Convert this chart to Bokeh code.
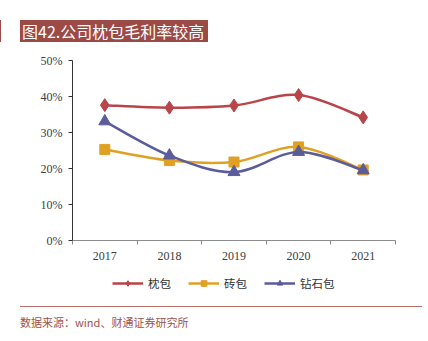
from bokeh.plotting import figure
from bokeh.models import (Range1d, FixedTicker, PrintfTickFormatter, Legend, LegendItem,
                          ColumnDataSource, Div)
from bokeh.layouts import column
from bokeh.embed import file_html
from bokeh.resources import INLINE

title_text = "图42.公司枕包毛利率较高"
source_text = "数据来源：wind、财通证券研究所"
years = ["2017", "2018", "2019", "2020", "2021"]
zhenbao = [37.6, 36.9, 37.5, 40.4, 34.2]
zhuanbao = [25.3, 22.2, 21.8, 26.0, 19.6]
zuanshibao = [33.1, 23.6, 19.0, 24.6, 19.5]
y_ticks = [0, 10, 20, 30, 40, 50]

series = [
    ("枕包", zhenbao, "#B9454A", "diamond", 13),
    ("砖包", zhuanbao, "#E0A024", "square", 10),
    ("钻石包", zuanshibao, "#5B5C9C", "triangle", 12),
]

W = 428
TOP_H, FIG_H, LEG_H, FOOT_H = 48, 222, 30, 41

title_div = Div(width=W, height=TOP_H, margin=0, text=(
    '<div style="height:20px"></div>'
    '<div style="display:flex">'
    '<div style="width:1px;height:22px;background:#9C4A45"></div>'
    '<div style="margin-left:19px;width:188px;height:22px;background:#9C4A45;color:white;'
    'font-family:\'Noto Sans CJK SC\';font-size:16px;line-height:22px;padding-left:2px;'
    'box-sizing:border-box;white-space:nowrap;overflow:hidden">' + title_text + '</div></div>'))

foot_div = Div(width=W, height=FOOT_H, margin=0, text=(
    '<div style="height:6px"></div>'
    '<div style="margin-left:20px;width:402px;height:0;border-top:1px solid #B8706A"></div>'
    '<div style="margin-left:20px;margin-top:7px;color:#A0524E;font-family:\'Noto Sans CJK SC\';'
    'font-size:11px;line-height:16px;white-space:nowrap">' + source_text + '</div>'))

p = figure(width=W, height=FIG_H, output_backend="svg", toolbar_location=None,
           x_range=Range1d(0, len(years)), y_range=Range1d(0, 50),
           min_border_left=72, min_border_right=33, min_border_top=12, min_border_bottom=30)
p.outline_line_color = None
p.grid.grid_line_color = None

xs = [i + 0.5 for i in range(len(years))]

xa = p.xaxis[0]
xa.ticker = FixedTicker(ticks=xs, minor_ticks=list(range(len(years) + 1)))
xa.major_label_overrides = {x: y for x, y in zip(xs, years)}
xa.major_tick_line_color = None
xa.minor_tick_in = 0
xa.minor_tick_out = 4
xa.minor_tick_line_color = "#8C8C8C"
xa.axis_line_color = "#8C8C8C"
xa.major_label_text_font = "Liberation Serif"
xa.major_label_text_font_size = "12px"
xa.major_label_text_color = "#404040"
xa.major_label_standoff = 5

ya = p.yaxis[0]
ya.ticker = FixedTicker(ticks=y_ticks)
ya.formatter = PrintfTickFormatter(format="%d%%")
ya.minor_tick_line_color = None
ya.major_tick_in = 0
ya.major_tick_out = 4
ya.major_tick_line_color = "#333333"
ya.axis_line_color = "#333333"
ya.major_label_text_font = "Liberation Serif"
ya.major_label_text_font_size = "12px"
ya.major_label_text_color = "#404040"
ya.major_label_standoff = 6


def smooth(xv, yv):
    n = len(xv)
    out = dict(x0=[], y0=[], x1=[], y1=[], cx0=[], cy0=[], cx1=[], cy1=[])
    for i in range(n - 1):
        a = max(i - 1, 0)
        d = min(i + 2, n - 1)
        out["x0"].append(xv[i]); out["y0"].append(yv[i])
        out["x1"].append(xv[i + 1]); out["y1"].append(yv[i + 1])
        out["cx0"].append(xv[i] + (xv[i + 1] - xv[a]) / 6)
        out["cy0"].append(yv[i] + (yv[i + 1] - yv[a]) / 6)
        out["cx1"].append(xv[i + 1] - (xv[d] - xv[i]) / 6)
        out["cy1"].append(yv[i + 1] - (yv[d] - yv[i]) / 6)
    return out


# legend strip: its own small figure holding only the legend (its renderers lie outside its ranges)
lg = figure(width=W, height=LEG_H, output_backend="svg", toolbar_location=None,
            x_range=Range1d(-20, -10), y_range=Range1d(-20, -10),
            x_axis_type=None, y_axis_type=None,
            min_border=0, min_border_left=0, min_border_right=0, min_border_top=0,
            min_border_bottom=0)
lg.outline_line_color = None
lg.grid.grid_line_color = None

items = []
for name, vals, col, mk, sz in series:
    p.bezier(source=ColumnDataSource(smooth(xs, vals)), x0="x0", y0="y0", x1="x1", y1="y1",
             cx0="cx0", cy0="cy0", cx1="cx1", cy1="cy1", line_color=col, line_width=2.5)
    p.scatter(xs, vals, marker=mk, size=sz, fill_color=col, line_color=col)
    lr = lg.line(xs, vals, line_color=col, line_width=2.5)
    sr = lg.scatter(xs, vals, marker=mk, size=7, fill_color=col, line_color=col)
    items.append(LegendItem(label=name, renderers=[lr, sr]))

legend = Legend(items=items, orientation="horizontal", location=(40, 9),
                border_line_color=None, background_fill_alpha=0, padding=0, margin=0,
                glyph_width=31, glyph_height=14, label_standoff=5, spacing=17,
                label_text_font="Noto Sans CJK SC", label_text_font_size="11.5px",
                label_text_color="#333333")
lg.add_layout(legend, "center")

layout = column(title_div, p, lg, foot_div, spacing=0)
open("out.html", "w").write(file_html(layout, INLINE))
